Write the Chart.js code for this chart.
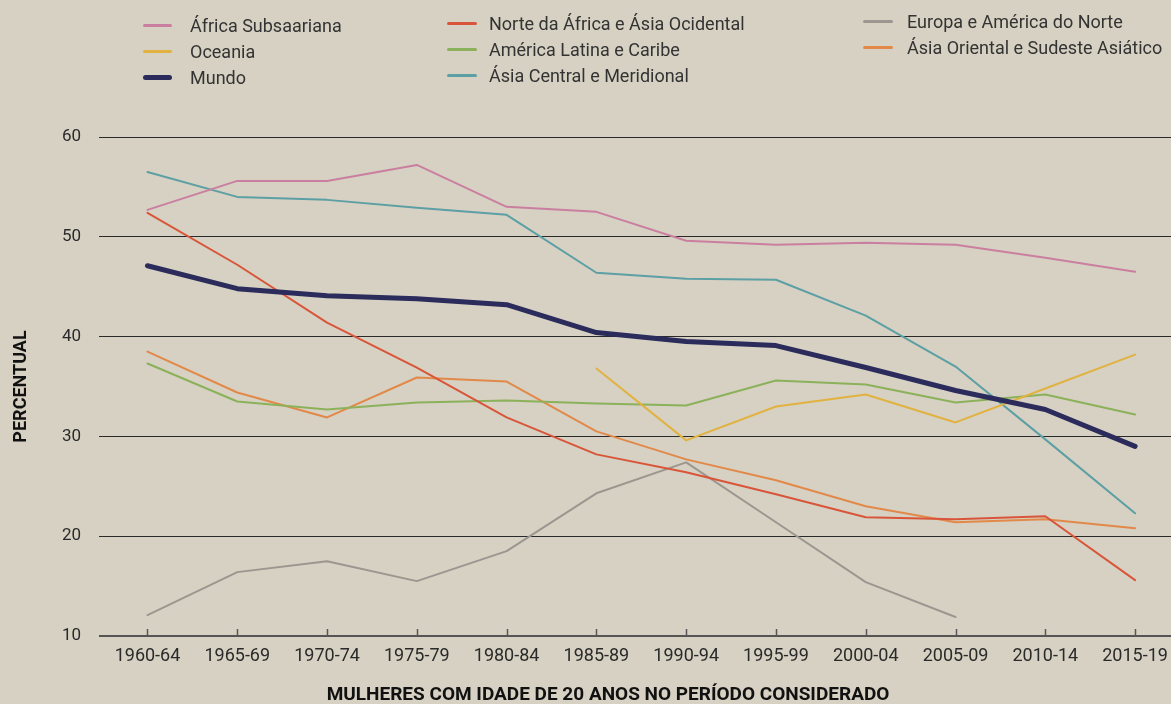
<!DOCTYPE html>
<html><head><meta charset="utf-8">
<script src="https://cdn.jsdelivr.net/npm/chart.js@4.4.1/dist/chart.umd.min.js"></script>
<style>
html,body{margin:0;padding:0;background:#d6d1c2;}
#wrap{position:relative;width:1171px;height:704px;overflow:hidden;}
#c{position:absolute;left:0;top:0;}
.lg{position:absolute;font-family:Roboto, sans-serif;font-size:18px;color:#333;display:flex;align-items:center;white-space:nowrap;height:20px;}
.sw{display:inline-block;border-radius:3px;}
</style>
</head><body>
<div id="wrap"><canvas id="c" width="1171" height="704"></canvas><div id="legend"></div></div>
<script>
const categories = ['1960-64','1965-69','1970-74','1975-79','1980-84','1985-89','1990-94','1995-99','2000-04','2005-09','2010-14','2015-19'];
const africaSubsaariana = [52.7,55.6,55.6,57.2,53.0,52.5,49.6,49.2,49.4,49.2,47.9,46.5];
const oceania = [null,null,null,null,null,36.8,29.6,33.0,34.2,31.4,34.8,38.2];
const mundo = [47.1,44.8,44.1,43.8,43.2,40.4,39.5,39.1,36.9,34.6,32.7,29.0];
const norteAfrica = [52.4,47.2,41.4,36.9,31.9,28.2,26.4,24.2,21.9,21.7,22.0,15.6];
const americaLatina = [37.3,33.5,32.7,33.4,33.6,33.3,33.1,35.6,35.2,33.4,34.2,32.2];
const asiaCentral = [56.5,54.0,53.7,52.9,52.2,46.4,45.8,45.7,42.1,37.0,29.7,22.3];
const europa = [12.1,16.4,17.5,15.5,18.5,24.3,27.4,21.4,15.4,11.9,null,null];
const asiaOriental = [38.5,34.4,31.9,35.9,35.5,30.5,27.7,25.6,23.0,21.4,21.7,20.8];
const yTicks = [10,20,30,40,50,60];

const toPts = arr => arr.map((v,i)=>({x:i,y:v}));
function ds(label, values, color, width, order){
  return {label, data: toPts(values), borderColor: color, backgroundColor: color,
    borderWidth: width, pointRadius: 0, tension: 0, fill: false, order: order,
    borderCapStyle: 'round', borderJoinStyle: 'round', spanGaps: false};
}
const datasets = [
  ds('África Subsaariana', africaSubsaariana, '#cb7fa0', 2, 1),
  ds('Oceania', oceania, '#e2b240', 2, 1),
  ds('Mundo', mundo, '#2b2b5c', 5, 0),
  ds('Norte da África e Ásia Ocidental', norteAfrica, '#d9553a', 2, 1),
  ds('América Latina e Caribe', americaLatina, '#8cb15b', 2, 1),
  ds('Ásia Central e Meridional', asiaCentral, '#5c9fa4', 2, 1),
  ds('Europa e América do Norte', europa, '#9b9790', 2, 1),
  ds('Ásia Oriental e Sudeste Asiático', asiaOriental, '#e2894a', 2, 1)
];

const extras = {
  id: 'extras',
  afterDatasetsDraw(chart){
    const ctx = chart.ctx, xs = chart.scales.x, a = chart.chartArea;
    ctx.save();
    ctx.strokeStyle = '#555'; ctx.lineWidth = 1.5;
    categories.forEach((c,i)=>{
      const px = Math.round(xs.getPixelForValue(i)) + 0.5;
      ctx.beginPath(); ctx.moveTo(px, a.bottom); ctx.lineTo(px, a.bottom - 7); ctx.stroke();
    });
    ctx.fillStyle = '#111';
    ctx.font = 'bold 19px Roboto';
    ctx.textAlign = 'center'; ctx.textBaseline = 'middle';
    ctx.fillText('MULHERES COM IDADE DE 20 ANOS NO PERÍODO CONSIDERADO', 608, 695);
    ctx.font = 'bold 18px Roboto';
    ctx.translate(21, (a.top + a.bottom)/2);
    ctx.rotate(-Math.PI/2);
    ctx.fillText('PERCENTUAL', 0, 0);
    ctx.restore();
  }
};

const chart = new Chart(document.getElementById('c'), {
  type: 'line',
  data: { datasets },
  options: {
    responsive: false, animation: false,
    layout: { padding: { top: 137, left: 0, right: 0, bottom: 0 } },
    plugins: { legend: { display: false }, tooltip: { enabled: false } },
    scales: {
      x: {
        type: 'linear', min: -0.54, max: 11.4,
        afterBuildTicks: s => { s.ticks = categories.map((c,i)=>({value:i})); },
        afterFit: s => { s.height = 68; s.paddingLeft = 0; s.paddingRight = 0; },
        grid: { display: false, drawTicks: false },
        border: { display: false },
        ticks: { callback: v => categories[v], autoSkip: false, maxRotation: 0,
          padding: 10, color: '#2a2a2a', font: { family: 'Roboto', size: 18 } }
      },
      y: {
        min: 10, max: 60,
        afterBuildTicks: s => { s.ticks = yTicks.map(v=>({value:v})); },
        afterFit: s => { s.width = 99; s.paddingTop = 0; s.paddingBottom = 0; },
        grid: { drawTicks: false,
          color: c => c.tick && c.tick.value === 10 ? '#555' : '#2a2a2a',
          lineWidth: c => c.tick && c.tick.value === 10 ? 2 : 1 },
        border: { display: false },
        ticks: { padding: 18, color: '#2a2a2a', font: { family: 'Roboto', size: 17 } }
      }
    }
  },
  plugins: [extras]
});

// HTML legend in three columns, built from the chart datasets
const cols = [
  { x: 143, y: 25, sw: 29, gap: 18, items: [0,1,2] },
  { x: 447, y: 23, sw: 30, gap: 12, items: [3,4,5] },
  { x: 863, y: 21, sw: 30, gap: 14, items: [6,7] }
];
const lg = document.getElementById('legend');
cols.forEach(col => {
  col.items.forEach((di, r) => {
    const d = chart.data.datasets[di];
    const el = document.createElement('div');
    el.className = 'lg';
    el.style.left = col.x + 'px';
    el.style.top = (col.y + r*26 - 10) + 'px';
    const sw = document.createElement('span');
    sw.className = 'sw';
    sw.style.width = col.sw + 'px';
    sw.style.height = (d.borderWidth > 3 ? 5 : 3) + 'px';
    sw.style.background = d.borderColor;
    sw.style.marginRight = col.gap + 'px';
    el.appendChild(sw);
    el.appendChild(document.createTextNode(d.label));
    lg.appendChild(el);
  });
});
</script>
</body></html>
